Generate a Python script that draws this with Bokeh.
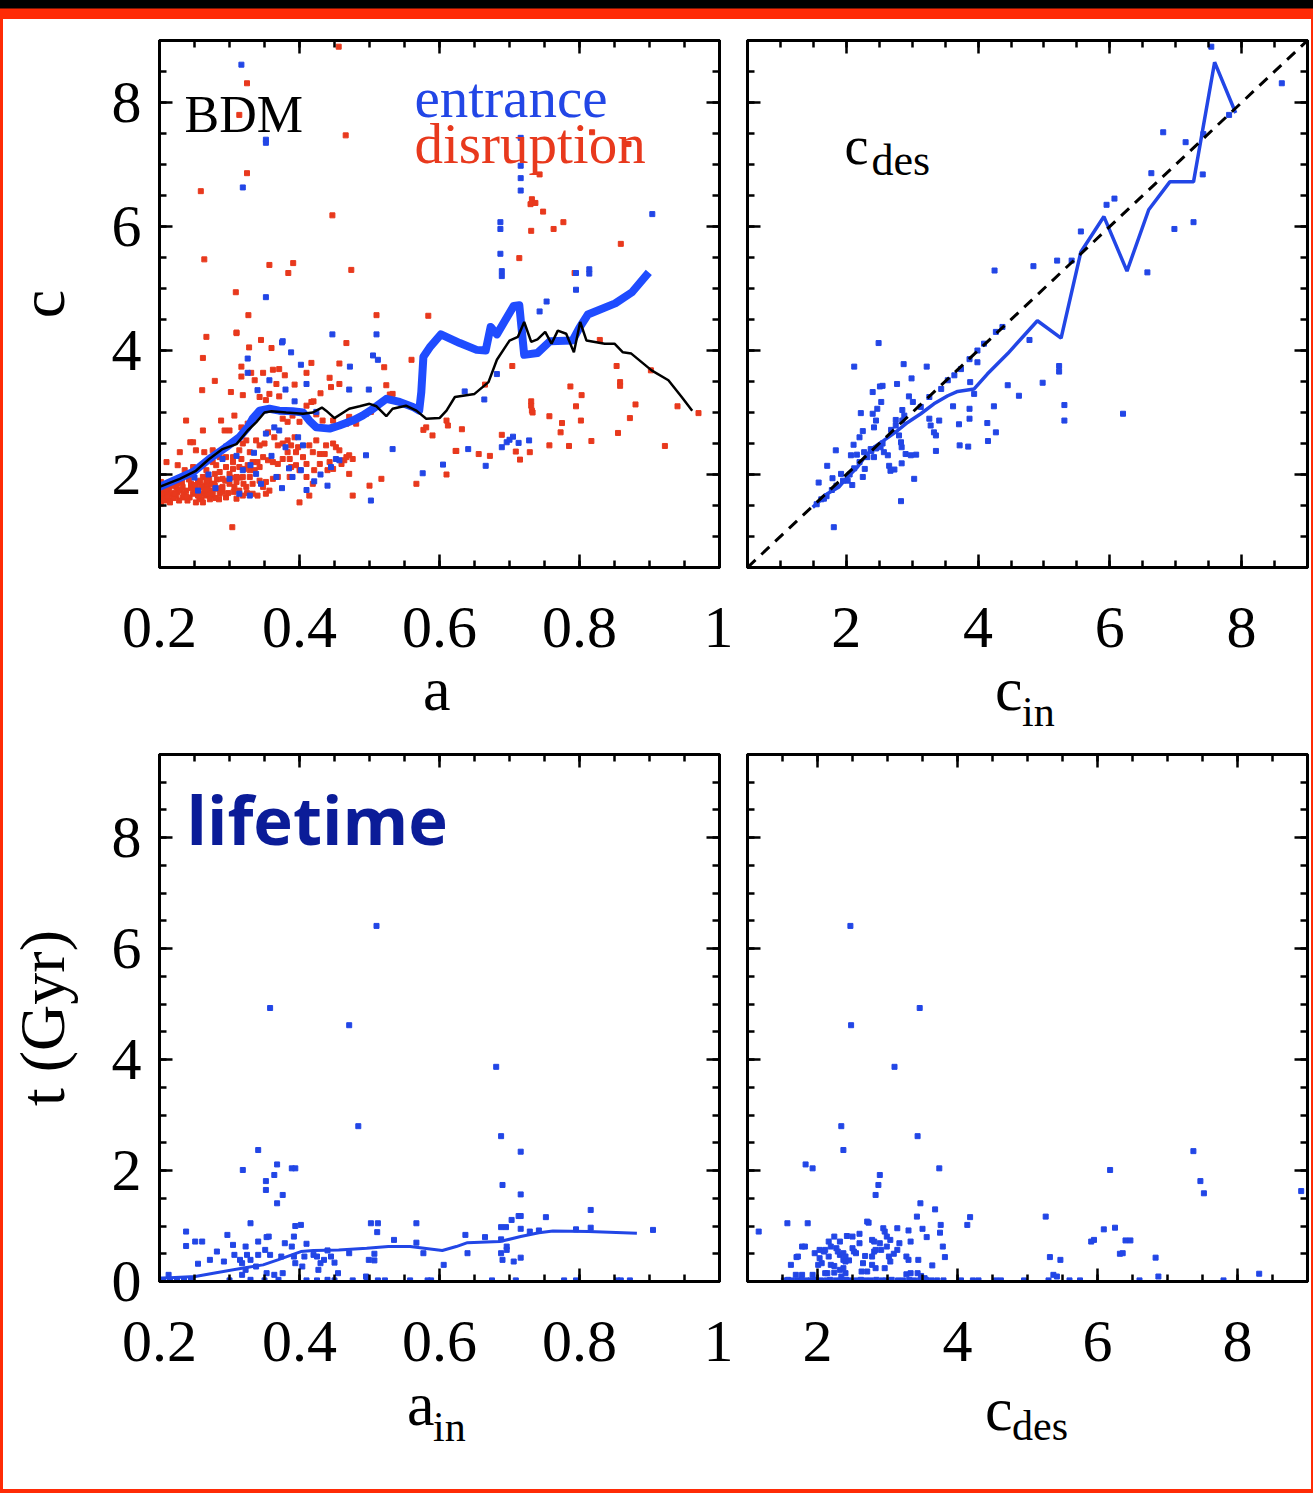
from bokeh.plotting import figure
from bokeh.models import Range1d, FixedTicker, LinearAxis, Label, Div, CustomLabelingPolicy
from bokeh.layouts import row, column
from bokeh.embed import file_html
from bokeh.resources import INLINE

# ---------------------------------------------------------------- data
# top-left: concentration c versus expansion factor a
entrance_line_a = [0.200, 0.248, 0.271, 0.295, 0.314, 0.326, 0.333, 0.343, 0.357, 0.371, 0.390,
                   0.405, 0.414, 0.424, 0.443, 0.457, 0.476, 0.490, 0.505, 0.524, 0.543, 0.562,
                   0.571, 0.574, 0.577, 0.586, 0.602, 0.629, 0.653, 0.666, 0.673, 0.682, 0.706,
                   0.714, 0.721, 0.740, 0.758, 0.790, 0.800, 0.812, 0.851, 0.875, 0.899]
entrance_line_c = [1.80, 2.04, 2.25, 2.44, 2.60, 2.76, 2.90, 3.03, 3.06, 3.03, 3.02,
                   3.00, 2.87, 2.76, 2.74, 2.79, 2.87, 2.95, 3.06, 3.22, 3.17, 3.09,
                   3.03, 3.33, 3.90, 4.05, 4.26, 4.12, 4.01, 4.00, 4.38, 4.26, 4.72,
                   4.73, 3.93, 3.96, 4.15, 4.16, 4.37, 4.58, 4.76, 4.94, 5.26]

disruption_line_a = [0.200, 0.229, 0.252, 0.271, 0.290, 0.310, 0.326, 0.338, 0.350, 0.360, 0.381,
                     0.405, 0.419, 0.432, 0.438, 0.450, 0.471, 0.486, 0.500, 0.510, 0.524, 0.533,
                     0.552, 0.567, 0.581, 0.600, 0.610, 0.622, 0.650, 0.670, 0.682, 0.700, 0.712,
                     0.721, 0.731, 0.740, 0.751, 0.760, 0.769, 0.781, 0.792, 0.801, 0.810, 0.836,
                     0.850, 0.862, 0.874, 0.903, 0.927, 0.946, 0.961]
disruption_line_c = [1.80, 1.93, 2.06, 2.25, 2.41, 2.49, 2.71, 2.84, 3.00, 3.02, 3.00,
                     2.98, 3.00, 3.08, 3.03, 2.91, 3.06, 3.10, 3.14, 3.10, 2.94, 3.06,
                     3.11, 3.03, 2.90, 2.91, 3.03, 3.25, 3.30, 3.49, 3.85, 4.16, 4.22,
                     4.46, 4.14, 4.18, 4.30, 4.11, 4.32, 4.27, 3.97, 4.46, 4.16, 4.11,
                     4.11, 3.97, 3.95, 3.68, 3.52, 3.25, 3.03]

disruption_points = [
    (0.456, 8.90), (0.325, 8.31), (0.314, 7.80), (0.466, 7.47), (0.325, 6.86), (0.259, 6.57),
    (0.447, 6.18), (0.264, 5.47), (0.357, 5.38), (0.391, 5.41), (0.384, 5.25), (0.474, 5.30),
    (0.309, 4.94), (0.327, 4.57), (0.310, 4.29), (0.510, 4.57), (0.584, 4.56), (0.521, 3.73),
    (0.577, 2.72), (0.714, 5.49), (0.732, 6.44), (0.730, 6.36), (0.737, 6.38), (0.748, 6.24),
    (0.731, 5.93), (0.763, 5.96), (0.777, 6.07), (0.818, 7.52), (0.870, 7.33), (0.743, 6.84),
    (0.859, 5.72), (0.793, 5.25),
    (0.829, 4.17), (0.853, 3.75), (0.858, 3.49), (0.858, 3.43), (0.902, 3.68), (0.880, 3.13),
    (0.872, 2.91), (0.855, 2.67), (0.922, 2.46), (0.940, 3.10), (0.970, 2.99), (0.704, 3.75),
    (0.665, 3.45), (0.787, 3.42), (0.803, 3.28), (0.795, 3.10), (0.731, 3.18), (0.731, 3.11),
    (0.732, 3.03), (0.733, 3.00), (0.757, 2.94), (0.775, 2.83), (0.773, 2.68), (0.802, 2.87),
    (0.817, 2.54), (0.757, 2.47), (0.785, 2.46), (0.689, 2.64), (0.709, 2.37), (0.715, 2.24),
    (0.729, 2.36), (0.672, 2.30), (0.656, 2.33), (0.623, 2.38), (0.632, 2.73),
    (0.267, 4.22), (0.310, 4.28), (0.328, 4.05), (0.345, 4.17), (0.360, 4.04), (0.262, 3.88),
    (0.279, 3.51), (0.261, 3.36), (0.317, 3.74), (0.331, 3.64), (0.317, 3.58), (0.348, 3.64),
    (0.362, 3.69), (0.371, 3.70), (0.379, 3.60), (0.336, 3.52), (0.367, 3.46), (0.393, 3.45),
    (0.417, 3.80), (0.410, 3.64), (0.430, 3.31), (0.443, 3.56), (0.457, 3.46), (0.467, 4.12),
    (0.457, 3.79), (0.445, 3.41), (0.417, 3.17), (0.420, 3.18), (0.524, 3.44), (0.529, 3.29),
    (0.560, 3.85), (0.302, 3.33), (0.319, 3.28), (0.307, 2.95), (0.288, 2.87), (0.238, 2.87),
    (0.262, 2.71), (0.293, 2.71), (0.300, 2.71), (0.317, 2.76), (0.326, 2.82), (0.343, 3.25),
    (0.352, 3.20), (0.357, 3.30), (0.371, 3.26), (0.376, 2.90), (0.383, 2.85), (0.390, 2.95),
    (0.400, 2.85), (0.410, 3.11), (0.424, 2.97), (0.433, 2.87), (0.448, 2.87), (0.467, 2.82),
    (0.471, 2.93), (0.481, 2.82), (0.495, 2.98), (0.502, 3.01), (0.533, 3.30), (0.581, 2.76),
    (0.590, 2.63), (0.610, 2.87), (0.612, 2.79), (0.624, 2.38), (0.610, 2.00), (0.567, 1.85),
    (0.517, 1.93), (0.500, 1.82), (0.476, 1.66), (0.414, 1.66), (0.400, 1.55), (0.304, 1.15),
    (0.248, 2.52), (0.244, 2.52), (0.252, 2.39), (0.264, 2.36), (0.276, 2.39), (0.229, 2.36),
    (0.210, 2.20), (0.226, 2.15), (0.236, 2.07), (0.248, 2.12), (0.267, 2.07), (0.276, 2.20),
    (0.281, 2.15), (0.286, 2.28), (0.295, 2.28), (0.305, 2.28), (0.314, 2.39), (0.319, 2.50),
    (0.324, 2.55), (0.329, 2.36), (0.338, 2.55), (0.343, 2.47), (0.350, 2.50), (0.355, 2.68),
    (0.364, 2.60), (0.369, 2.47), (0.376, 2.50), (0.383, 2.55), (0.388, 2.47), (0.393, 2.60),
    (0.398, 2.44), (0.405, 2.28), (0.419, 2.36), (0.424, 2.55), (0.429, 2.33), (0.436, 2.33),
    (0.443, 2.20), (0.448, 2.50), (0.452, 2.44), (0.460, 2.17), (0.464, 2.23), (0.467, 2.28),
    (0.471, 2.31), (0.471, 2.01), (0.448, 2.09), (0.440, 2.07), (0.429, 2.17), (0.421, 2.07),
    (0.410, 2.17), (0.395, 2.15), (0.386, 2.25), (0.376, 2.25), (0.369, 2.17), (0.362, 2.20),
    (0.355, 2.23), (0.348, 2.28), (0.340, 2.20), (0.333, 2.20), (0.326, 2.15), (0.321, 2.09),
    (0.314, 2.12), (0.305, 2.09), (0.295, 2.12), (0.286, 2.04), (0.279, 2.01), (0.271, 1.93),
    (0.262, 1.96), (0.255, 1.88), (0.245, 1.85), (0.233, 1.80), (0.224, 1.80), (0.214, 1.77),
    (0.210, 1.69), (0.205, 1.63), (0.202, 1.53), (0.207, 1.58), (0.217, 1.69), (0.226, 1.72),
    (0.238, 1.74), (0.252, 1.80), (0.262, 1.82), (0.269, 1.80), (0.276, 1.74), (0.283, 1.77),
    (0.290, 1.80), (0.300, 1.85), (0.307, 1.80), (0.314, 1.74), (0.324, 1.80), (0.333, 1.85),
    (0.343, 1.90), (0.352, 1.88), (0.362, 1.93), (0.369, 1.96), (0.357, 1.74), (0.348, 1.80),
    (0.340, 1.66), (0.333, 1.69), (0.319, 1.66), (0.310, 1.61), (0.295, 1.63), (0.286, 1.69),
    (0.276, 1.66), (0.267, 1.66), (0.260, 1.69), (0.252, 1.55), (0.243, 1.63), (0.233, 1.63),
    (0.224, 1.66), (0.214, 1.58), (0.205, 1.80), (0.202, 1.88), (0.260, 1.80), (0.267, 1.88),
    (0.269, 1.98), (0.274, 1.85), (0.264, 1.74), (0.257, 1.63), (0.248, 1.69), (0.271, 1.74),
    (0.279, 1.82), (0.386, 1.96), (0.388, 2.12), (0.400, 2.07), (0.410, 1.96), (0.419, 1.85),
    (0.352, 1.69), (0.329, 1.96), (0.319, 1.96), (0.310, 1.96), (0.300, 2.01), (0.290, 1.93),
    (0.329, 2.07), (0.336, 2.07), (0.343, 2.12), (0.305, 2.20), (0.317, 2.25), (0.383, 2.36),
    (0.395, 2.36), (0.414, 2.47), (0.438, 2.47), (0.457, 2.39), (0.476, 2.25),
    (0.210, 1.72), (0.220, 1.62), (0.230, 1.75), (0.240, 1.58), (0.250, 1.72), (0.260, 1.60),
    (0.270, 1.68), (0.280, 1.62), (0.225, 1.85), (0.235, 1.68), (0.245, 1.78), (0.255, 1.66),
    (0.265, 1.76), (0.275, 1.70), (0.285, 1.60), (0.290, 1.72), (0.203, 1.70), (0.206, 1.60),
    (0.208, 1.76), (0.212, 1.65), (0.215, 1.55), (0.218, 1.82), (0.222, 1.70), (0.228, 1.58),
    (0.232, 1.88), (0.238, 1.65), (0.242, 1.92), (0.250, 1.83), (0.258, 1.90), (0.262, 1.55),
    (0.268, 1.90), (0.272, 1.60), (0.278, 1.85), (0.282, 1.92), (0.288, 1.78), (0.294, 1.90),
    (0.298, 1.70), (0.302, 1.95), (0.306, 1.72), (0.310, 1.88), (0.315, 1.95), (0.320, 1.85),
    (0.325, 1.70),
]

entrance_points = [
    (0.317, 8.61), (0.319, 6.63), (0.352, 7.40), (0.352, 7.35), (0.352, 4.86), (0.687, 6.07),
    (0.687, 5.96), (0.687, 5.56), (0.689, 5.28), (0.689, 5.20), (0.716, 7.43), (0.716, 6.98),
    (0.716, 6.78), (0.716, 6.58), (0.814, 5.31), (0.814, 5.24), (0.795, 5.25), (0.795, 4.98),
    (0.904, 6.20), (0.753, 4.79), (0.743, 4.63), (0.375, 4.13),
    (0.682, 3.62), (0.636, 3.34), (0.664, 3.21), (0.689, 2.44), (0.696, 2.52), (0.700, 2.56),
    (0.705, 2.61), (0.713, 2.51), (0.728, 2.55), (0.641, 2.41), (0.666, 2.14), (0.605, 2.16),
    (0.376, 4.15), (0.388, 3.97), (0.402, 3.77), (0.447, 4.26), (0.510, 4.26), (0.505, 3.92),
    (0.512, 3.85), (0.472, 3.74), (0.326, 3.87), (0.326, 3.64), (0.340, 3.36), (0.357, 3.52),
    (0.380, 3.37), (0.393, 3.18), (0.410, 3.46), (0.424, 3.01), (0.471, 3.37), (0.499, 3.37),
    (0.533, 2.41), (0.495, 2.31), (0.502, 1.58), (0.421, 1.89), (0.445, 2.12), (0.452, 2.25),
    (0.457, 2.23), (0.364, 2.76), (0.352, 2.66), (0.371, 2.71), (0.380, 2.44), (0.398, 2.60),
    (0.405, 2.47), (0.402, 2.07), (0.314, 1.69), (0.329, 1.66), (0.300, 1.93), (0.255, 1.74),
    (0.290, 2.25), (0.319, 2.07), (0.338, 2.01), (0.367, 1.96), (0.390, 1.96), (0.576, 2.02),
    (0.250, 1.95), (0.270, 2.00), (0.280, 1.78), (0.310, 2.30), (0.330, 2.15), (0.345, 1.85),
    (0.360, 2.30), (0.375, 1.78), (0.385, 2.10), (0.410, 1.75), (0.430, 2.00), (0.440, 1.82),
    (0.295, 2.45), (0.335, 2.35),
]

# top-right: c_des versus c_in
mean_cin = [1.49, 1.71, 1.89, 2.02, 2.17, 2.30, 2.42, 2.57, 2.78, 2.93, 3.13, 3.33, 3.54, 3.69,
            3.94, 4.14, 4.45, 4.90, 5.26, 5.56, 5.91, 6.26, 6.59, 6.91, 7.27, 7.59, 7.91]
mean_cdes = [1.47, 1.69, 1.80, 1.96, 2.12, 2.31, 2.44, 2.55, 2.71, 2.84, 2.98, 3.14, 3.27, 3.34,
             3.38, 3.62, 3.95, 4.48, 4.20, 5.59, 6.16, 5.28, 6.27, 6.72, 6.72, 8.65, 7.83]
identity = [0.5, 9.0]

halo_points = [
    (2.49, 4.12), (2.12, 3.74), (2.87, 3.78), (3.22, 3.74), (2.99, 3.55), (2.77, 3.46),
    (2.55, 3.43), (2.51, 3.42), (2.40, 3.33), (2.95, 3.26), (2.53, 3.17), (3.01, 3.17),
    (2.22, 2.99), (2.40, 2.98), (2.47, 3.06), (2.85, 3.04), (2.45, 2.87), (2.75, 2.88),
    (2.88, 2.95), (3.26, 2.90), (3.41, 2.87), (3.62, 3.10), (3.87, 3.06), (4.24, 3.10),
    (3.99, 3.81), (3.88, 3.49), (3.94, 3.30), (3.87, 2.90), (3.28, 2.79), (3.33, 2.68),
    (3.36, 2.63), (4.14, 2.83), (4.27, 2.68), (4.15, 2.54), (3.71, 2.81), (3.72, 2.47),
    (3.85, 2.45), (3.36, 2.38), (2.83, 2.52), (2.84, 2.44), (2.90, 2.33), (2.98, 2.31),
    (3.06, 2.32), (2.68, 2.72), (2.42, 2.76), (2.25, 2.70), (2.20, 2.60), (2.11, 2.48),
    (1.84, 2.39), (2.52, 2.44), (2.57, 2.36), (2.42, 2.28), (2.28, 2.09), (2.07, 2.31),
    (2.16, 2.32), (1.71, 2.14), (1.92, 2.01), (2.09, 1.83), (2.25, 1.96), (2.65, 2.14),
    (2.67, 2.06), (2.73, 2.08), (2.84, 2.18), (3.03, 1.93), (1.58, 1.87), (1.79, 1.94),
    (2.83, 1.57), (1.81, 1.15), (1.66, 1.61), (2.02, 1.90), (2.27, 2.36), (2.37, 2.41),
    (2.63, 2.31), (2.80, 2.63),
    (2.75, 2.79), (2.85, 2.87), (3.13, 3.09), (3.26, 3.25), (3.44, 3.38), (3.54, 3.52),
    (3.64, 3.60), (3.74, 3.70), (3.87, 3.86), (3.99, 4.00), (4.09, 4.11), (4.27, 4.30),
    (4.37, 4.38),
    (1.55, 1.52), (1.62, 1.60), (1.70, 1.65), (1.78, 1.75), (1.85, 1.82), (1.95, 1.90),
    (2.05, 2.00), (2.12, 2.10), (2.20, 2.20), (2.32, 2.28), (2.38, 2.38), (2.45, 2.42),
    (2.55, 2.50),
    (4.25, 5.29), (4.84, 5.36), (5.20, 5.45), (4.78, 4.17), (4.98, 3.48), (5.23, 3.75),
    (5.23, 3.66), (5.31, 3.12), (5.31, 2.87), (4.45, 3.44), (4.62, 3.27), (6.20, 2.98),
    (5.56, 5.92), (5.95, 6.35), (6.07, 6.45), (6.57, 5.26), (6.63, 6.86), (6.81, 7.52),
    (6.98, 5.96), (7.15, 7.36), (7.27, 6.07), (7.41, 6.84), (7.54, 8.90), (8.61, 8.31),
    (7.42, 7.49), (7.81, 7.80), (5.42, 5.45),
]

# bottom-left: lifetime versus a_in
life_line_a = [0.200, 0.251, 0.277, 0.318, 0.348, 0.369, 0.389, 0.402, 0.420, 0.456, 0.496, 0.527,
               0.558, 0.578, 0.604, 0.624, 0.640, 0.686, 0.716, 0.742, 0.762, 0.813, 0.882]
life_line_t = [0.06, 0.09, 0.15, 0.24, 0.30, 0.39, 0.48, 0.54, 0.56, 0.57, 0.60, 0.63,
               0.63, 0.60, 0.56, 0.63, 0.70, 0.72, 0.81, 0.88, 0.91, 0.90, 0.87]

life_vs_a = [
    (0.484, 2.80), (0.341, 2.37), (0.368, 2.11), (0.319, 2.01), (0.389, 2.04), (0.394, 2.04),
    (0.352, 1.81), (0.364, 1.92), (0.352, 1.65), (0.376, 1.56), (0.368, 1.41), (0.688, 2.62),
    (0.716, 2.34), (0.690, 1.74), (0.716, 1.57), (0.816, 1.29), (0.752, 1.16), (0.713, 1.18),
    (0.716, 1.18), (0.703, 1.11), (0.688, 0.98), (0.695, 0.98), (0.716, 0.95), (0.795, 0.94),
    (0.816, 0.97), (0.905, 0.93), (0.729, 0.90), (0.742, 0.92), (0.637, 0.84), (0.665, 0.80),
    (0.688, 0.76), (0.696, 0.63), (0.696, 0.57), (0.688, 0.51), (0.690, 0.39), (0.706, 0.36),
    (0.716, 0.43), (0.640, 0.51), (0.606, 0.30), (0.567, 1.05), (0.567, 0.70), (0.577, 0.51),
    (0.535, 0.75), (0.502, 1.05), (0.512, 1.05), (0.511, 0.89), (0.507, 0.50), (0.499, 0.39),
    (0.507, 0.38), (0.495, 0.09), (0.471, 0.51), (0.455, 0.15), (0.450, 0.34), (0.445, 0.45),
    (0.440, 0.56), (0.435, 0.39), (0.430, 0.33), (0.425, 0.45), (0.420, 0.48), (0.410, 0.68),
    (0.407, 0.45), (0.404, 0.27), (0.394, 1.00), (0.402, 1.02), (0.392, 0.81), (0.389, 0.63),
    (0.392, 0.45), (0.394, 0.33), (0.379, 0.69), (0.374, 0.45), (0.376, 0.15), (0.364, 0.12),
    (0.353, 0.15), (0.358, 0.48), (0.351, 0.57), (0.356, 0.81), (0.353, 0.80), (0.341, 0.72),
    (0.330, 1.05), (0.341, 0.48), (0.330, 0.39), (0.325, 0.48), (0.323, 0.63), (0.315, 0.39),
    (0.318, 0.33), (0.307, 0.48), (0.305, 0.66), (0.297, 0.84), (0.292, 0.36), (0.282, 0.54),
    (0.272, 0.39), (0.255, 0.32), (0.238, 0.90), (0.238, 0.64), (0.251, 0.72), (0.261, 0.72),
    (0.213, 0.12), (0.318, 0.12), (0.323, 0.21), (0.338, 0.27), (0.427, 0.21),
    (0.510, 6.41), (0.358, 4.93), (0.471, 4.62), (0.681, 3.87),
    (0.205, 0.03), (0.215, 0.02), (0.225, 0.03), (0.235, 0.02), (0.245, 0.03), (0.300, 0.02),
    (0.330, 0.03), (0.350, 0.02), (0.370, 0.03), (0.410, 0.02), (0.425, 0.02), (0.440, 0.03),
    (0.450, 0.02), (0.476, 0.02), (0.496, 0.03), (0.512, 0.02), (0.522, 0.02), (0.558, 0.02),
    (0.583, 0.02), (0.588, 0.02), (0.675, 0.02), (0.709, 0.02), (0.778, 0.02), (0.795, 0.02),
    (0.854, 0.02), (0.859, 0.02), (0.872, 0.02),
]

# bottom-right: lifetime versus c_des
life_vs_cdes = [
    (1.16, 0.90), (1.57, 1.05), (1.83, 2.11), (1.93, 2.04), (1.86, 1.05), (2.34, 2.80),
    (2.37, 2.37), (3.43, 2.62), (3.74, 2.04), (2.89, 1.92), (2.87, 1.74), (2.83, 1.56),
    (3.47, 1.41), (3.68, 1.30), (3.42, 1.17), (4.18, 1.16), (4.14, 1.02), (3.76, 1.02),
    (3.75, 0.88), (3.50, 0.95), (3.56, 0.80), (3.79, 0.63), (3.82, 0.44), (3.64, 0.29),
    (3.44, 0.39), (3.33, 0.72), (3.30, 0.92), (2.71, 1.08), (2.73, 1.06), (2.60, 0.86),
    (2.50, 0.81), (2.42, 0.82), (2.32, 0.72), (2.24, 0.81), (2.16, 0.72), (2.03, 0.57),
    (2.09, 0.54), (1.96, 0.51), (1.70, 0.44), (1.72, 0.45), (1.78, 0.63), (1.82, 0.63),
    (1.62, 0.30), (2.01, 0.30), (2.14, 0.15), (2.11, 0.15), (2.24, 0.16), (2.32, 0.21),
    (2.37, 0.24), (2.40, 0.36), (2.45, 0.38), (2.32, 0.48), (2.37, 0.51), (2.55, 0.51),
    (2.68, 0.46), (2.65, 0.33), (2.63, 0.18), (2.71, 0.18), (2.81, 0.54), (2.83, 0.57),
    (2.78, 0.45), (2.78, 0.30), (2.83, 0.24), (2.94, 0.96), (2.96, 0.90), (2.99, 0.81),
    (2.99, 0.63), (3.04, 0.75), (3.09, 0.50), (3.14, 0.96), (3.17, 0.69), (3.27, 0.45),
    (3.30, 0.39), (3.02, 0.45), (3.04, 0.36), (2.96, 0.24), (3.27, 0.13), (3.33, 0.15),
    (3.43, 0.15), (3.48, 0.10), (3.53, 0.06), (1.93, 0.12), (1.78, 0.12), (1.69, 0.12),
    (2.34, 0.09), (2.40, 0.15), (2.19, 0.63), (2.11, 0.57), (2.27, 0.60), (2.29, 0.54),
    (2.06, 0.33), (2.03, 0.42), (2.16, 0.45), (2.19, 0.30), (2.24, 0.28), (2.37, 0.39),
    (2.40, 0.45), (2.50, 0.60), (2.52, 0.54), (2.60, 0.69), (2.78, 0.75), (2.81, 0.72),
    (2.89, 0.69), (2.91, 0.57), (3.14, 0.57),
    (5.26, 1.17), (5.32, 0.44), (5.47, 0.39), (5.37, 0.12), (5.42, 0.09), (5.91, 0.72),
    (5.95, 0.75), (6.09, 0.94), (6.18, 2.01), (6.25, 0.97), (6.32, 0.50), (6.36, 0.51),
    (6.40, 0.74), (6.47, 0.74), (6.83, 0.43), (6.87, 0.09), (7.37, 2.35), (7.47, 1.81),
    (7.52, 1.59), (8.31, 0.14), (8.91, 1.63),
    (2.47, 6.41), (2.48, 4.62), (3.46, 4.93), (3.10, 3.87),
    (1.52, 0.02), (1.58, 0.03), (1.63, 0.02), (1.71, 0.02), (1.77, 0.03), (1.84, 0.02),
    (1.90, 0.02), (1.97, 0.03), (2.05, 0.02), (2.13, 0.02), (2.18, 0.03), (2.26, 0.02),
    (2.33, 0.02), (2.41, 0.03), (2.47, 0.02), (2.55, 0.02), (2.62, 0.03), (2.69, 0.02),
    (2.76, 0.02), (2.84, 0.03), (2.92, 0.02), (2.98, 0.02), (3.06, 0.03), (3.15, 0.02),
    (3.22, 0.02), (3.31, 0.03), (3.38, 0.02), (3.46, 0.02), (3.55, 0.03), (3.63, 0.02),
    (3.71, 0.02), (3.80, 0.02), (4.05, 0.02), (4.22, 0.02), (4.30, 0.02), (4.55, 0.02),
    (4.62, 0.02), (4.95, 0.02), (5.30, 0.02), (5.60, 0.02), (5.75, 0.02), (6.60, 0.02),
    (7.80, 0.02),
]

# tick labels
a_ticks = [0.2, 0.4, 0.6, 0.8, 1.0]
c_ticks = [2, 4, 6, 8]
t_ticks = [0, 2, 4, 6, 8]

# ---------------------------------------------------------------- styling
SERIF = "Liberation Serif"
FRAME_RED = "#ff2b06"
PT_BLUE = "#2246e6"
PT_RED = "#e8391d"
LINE_BLUE = "#1f4cff"
NAVY = "#0b1c98"
TICK_PX = "60px"
BOTTOM_BORDER = 112

NO_LABELS = CustomLabelingPolicy(code="return []")


def steps(start, stop, step):
    n = int(round((stop - start) / step))
    return [round(start + i * step, 4) for i in range(n + 1)]


def style_axis(ax, major, minor, labelled, standoff=0):
    ax.ticker = FixedTicker(ticks=major, minor_ticks=minor)
    ax.axis_line_color = "black"
    ax.axis_line_width = 3
    ax.major_tick_in = 13
    ax.major_tick_out = 0
    ax.minor_tick_in = 7
    ax.minor_tick_out = 0
    ax.major_tick_line_color = "black"
    ax.minor_tick_line_color = "black"
    ax.major_tick_line_width = 2.5
    ax.minor_tick_line_width = 2.5
    if labelled:
        ax.major_label_text_font = SERIF
        ax.major_label_text_font_size = TICK_PX
        ax.major_label_text_color = "black"
        ax.major_label_standoff = standoff
    else:
        # tick marks only, as on the mirrored sides of the box
        ax.major_label_policy = NO_LABELS
        ax.major_label_text_font_size = "1px"
        ax.major_label_standoff = 0


def panel(xr, yr, xt, yt, y_labelled, left, right, top, bottom):
    p = figure(frame_width=560, frame_height=527,
               x_range=Range1d(*xr), y_range=Range1d(*yr),
               output_backend="svg", toolbar_location=None, tools="",
               min_border_left=left, min_border_right=right,
               min_border_top=top, min_border_bottom=bottom)
    p.grid.visible = False
    p.background_fill_color = "white"
    p.border_fill_color = "white"
    p.outline_line_color = "black"
    p.outline_line_width = 3
    style_axis(p.xaxis[0], xt[0], xt[1], True, 40)
    style_axis(p.yaxis[0], yt[0], yt[1], y_labelled, 18)
    top_axis = LinearAxis()
    style_axis(top_axis, xt[0], xt[1], False)
    p.add_layout(top_axis, "above")
    right_axis = LinearAxis()
    style_axis(right_axis, yt[0], yt[1], False)
    p.add_layout(right_axis, "right")
    return p


def y_title(p, text, size, standoff):
    ax = p.yaxis[0]
    ax.axis_label = text
    ax.axis_label_text_font = SERIF
    ax.axis_label_text_font_size = f"{size}px"
    ax.axis_label_text_font_style = "normal"
    ax.axis_label_text_color = "black"
    ax.axis_label_standoff = standoff


def note(p, x, y, text, size, color="black", font=SERIF, style="normal"):
    p.add_layout(Label(x=x, y=y, x_units="screen", y_units="screen", text=text,
                       text_font=font, text_font_size=f"{size}px", text_color=color,
                       text_align="left", text_baseline="alphabetic",
                       text_font_style=style))


def unzip(pairs):
    return [q[0] for q in pairs], [q[1] for q in pairs]


def caption(width, height, parts):
    # parts: (text, font size, left, top); each glyph run is pinned by its own box
    spans = "".join(
        f'<span style="position:absolute;left:{left}px;top:{top}px;'
        f"font-family:'{SERIF}';font-size:{size}px;line-height:0;"
        f'white-space:nowrap;color:#000;">{text}</span>'
        for text, size, left, top in parts)
    html = f'<div style="position:relative;width:{width}px;height:{height}px;">{spans}</div>'
    return Div(text=html, width=width, height=height, margin=0,
               styles={"overflow": "visible", "background-color": "white"})


a_axis = (a_ticks, steps(0.2, 1.0, 0.05))
c_axis = (c_ticks, steps(0.5, 9.0, 0.5))
t_axis = (t_ticks, steps(0.0, 9.5, 0.5))
cd_axis = (c_ticks, steps(1.0, 9.0, 0.5))

# ---- top-left
p1 = panel((0.2, 1.0), (0.5, 9.0), a_axis, c_axis, True, 155, 14, 21, BOTTOM_BORDER)
p1.xaxis[0].major_label_overrides = {1.0: "1"}
y_title(p1, "c", 64, 31)
x, y = unzip(disruption_points)
p1.scatter(x, y, marker="square", size=5, color=PT_RED)
x, y = unzip(entrance_points)
p1.scatter(x, y, marker="square", size=5, color=PT_BLUE)
p1.line(entrance_line_a, entrance_line_c, line_color=LINE_BLUE, line_width=8, line_join="round")
p1.line(disruption_line_a, disruption_line_c, line_color="black", line_width=2.5)
note(p1, 25, 453, "BDM", 52)
note(p1, 255, 470, "entrance", 57, color=PT_BLUE)
note(p1, 255, 424, "disruption", 57, color=PT_RED)

# ---- top-right
p2 = panel((0.5, 9.0), (0.5, 9.0), c_axis, c_axis, False, 14, 3, 21, BOTTOM_BORDER)
x, y = unzip(halo_points)
p2.scatter(x, y, marker="square", size=5, color=PT_BLUE)
p2.line(mean_cin, mean_cdes, line_color=PT_BLUE, line_width=3.5)
p2.line(identity, identity, line_color="black", line_width=3, line_dash="11 8")
note(p2, 97, 422, "c", 54)
note(p2, 124, 407, "des", 44)

# ---- bottom-left
p3 = panel((0.2, 1.0), (0.0, 9.5), a_axis, t_axis, True, 155, 14, 21, BOTTOM_BORDER)
p3.xaxis[0].major_label_overrides = {1.0: "1"}
y_title(p3, "t (Gyr)", 64, 31)
x, y = unzip(life_vs_a)
p3.scatter(x, y, marker="square", size=5, color=PT_BLUE)
p3.line(life_line_a, life_line_t, line_color=PT_BLUE, line_width=3)
note(p3, 27, 463, "lifetime", 67, color=NAVY, font="Open Sans", style="bold")

# ---- bottom-right
p4 = panel((1.0, 9.0), (0.0, 9.5), cd_axis, t_axis, False, 14, 3, 21, BOTTOM_BORDER)
x, y = unzip(life_vs_cdes)
p4.scatter(x, y, marker="square", size=5, color=PT_BLUE)

# ---- x-axis titles under each row
top_titles = row(
    caption(729, 54, [("a", 62, 420, 10)]),
    caption(577, 54, [("c", 62, 263, 10), ("in", 42, 290, 33)]),
)
bottom_titles = row(
    caption(729, 96, [("a", 62, 404, 11), ("in", 42, 430, 34)]),
    caption(577, 96, [("c", 62, 253, 16), ("des", 42, 280, 33)]),
)

# ---- page frame
band = Div(text="", width=1313, height=19, margin=0,
           styles={"background": f"linear-gradient(to bottom, #000 0px, #000 8px, {FRAME_RED} 9px, {FRAME_RED} 19px)"})
left_edge = Div(text="", width=3, height=1470, margin=0, styles={"background-color": FRAME_RED})
right_edge = Div(text="", width=4, height=1470, margin=0, styles={"background-color": FRAME_RED})
bottom_edge = Div(text="", width=1313, height=4, margin=0, styles={"background-color": FRAME_RED})

grid = column(row(p1, p2), top_titles, row(p3, p4), bottom_titles)
page = column(band, row(left_edge, grid, right_edge), bottom_edge)

open("out.html", "w").write(file_html(page, INLINE))
